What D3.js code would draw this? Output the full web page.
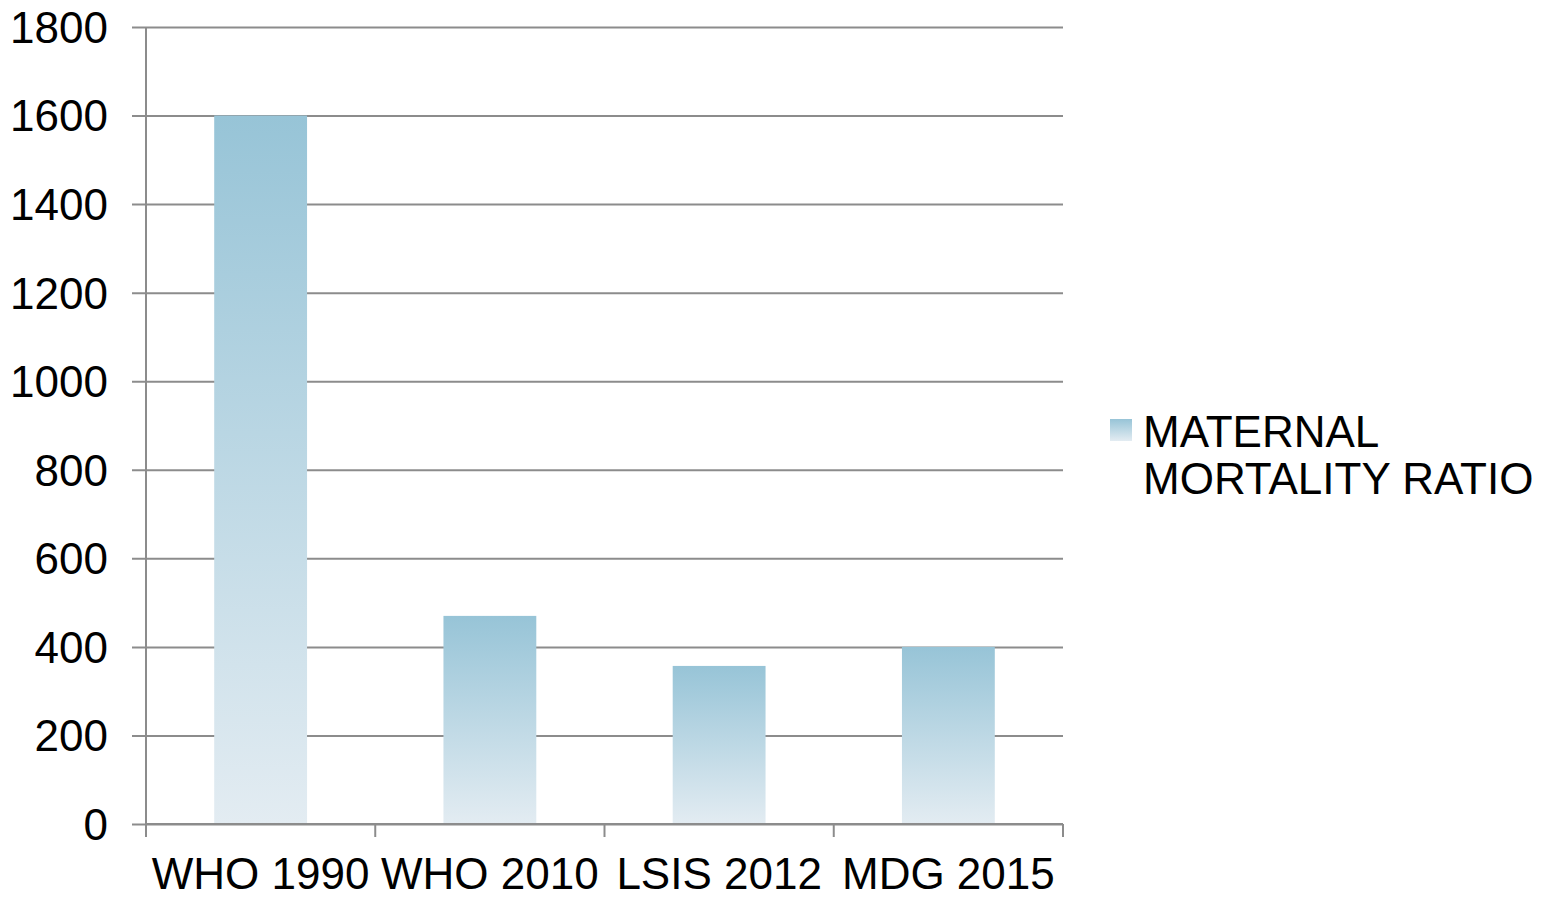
<!DOCTYPE html>
<html>
<head>
<meta charset="utf-8">
<script src="https://cdn.jsdelivr.net/npm/d3@7.9.0/dist/d3.min.js"></script>
<style>
  html, body { margin: 0; padding: 0; background: #fff; }
  svg { display: block; }
  text { font-family: "Liberation Sans", Arial, sans-serif; fill: #000; }
</style>
</head>
<body>
<div id="chart"></div>
<script>
const categories = ['WHO 1990', 'WHO 2010', 'LSIS 2012', 'MDG 2015'];
const values = [1600, 470, 357, 400];
const yTicks = [0, 200, 400, 600, 800, 1000, 1200, 1400, 1600, 1800];
const seriesName = ['MATERNAL', 'MORTALITY RATIO'];

const width = 1557;
const height = 897;
const plot = { left: 146, right: 1063, top: 27, bottom: 824 };
const gridColor = '#8c8c8c';

const svg = d3
  .select('#chart')
  .append('svg')
  .attr('width', width)
  .attr('height', height);

const defs = svg.append('defs');
const grad = defs
  .append('linearGradient')
  .attr('id', 'barGrad')
  .attr('x1', 0).attr('y1', 0)
  .attr('x2', 0).attr('y2', 1);
grad.append('stop').attr('offset', '0%').attr('stop-color', '#97c4d7');
grad.append('stop').attr('offset', '100%').attr('stop-color', '#e3ecf2');

const xScale = d3
  .scaleBand()
  .domain(categories)
  .range([plot.left, plot.right])
  .paddingInner(0.595)
  .paddingOuter(0.2975);

const yScale = d3.scaleLinear().domain([0, 1800]).range([plot.bottom, plot.top]);

// gridlines + y ticks
const yAxis = svg
  .append('g')
  .attr('transform', `translate(${plot.left}, 0)`)
  .call(
    d3.axisLeft(yScale)
      .tickValues(yTicks)
      .tickSizeInner(-(plot.right - plot.left))
      .tickSizeOuter(0)
      .tickFormat('')
  );
yAxis.select('.domain').remove();
yAxis.selectAll('line').attr('stroke', gridColor).attr('stroke-width', 2).attr('x1', -14);

// y labels
svg
  .append('g')
  .selectAll('text')
  .data(yTicks)
  .join('text')
  .attr('x', 108)
  .attr('y', (d) => yScale(d))
  .attr('dy', '0.36em')
  .attr('text-anchor', 'end')
  .style('font-size', '44px')
  .text((d) => d);

// bars
svg
  .append('g')
  .selectAll('rect')
  .data(values)
  .join('rect')
  .attr('x', (d, i) => xScale(categories[i]))
  .attr('y', (d) => yScale(d))
  .attr('width', xScale.bandwidth())
  .attr('height', (d) => yScale(0) - yScale(d))
  .attr('fill', 'url(#barGrad)');

// y axis line
svg
  .append('line')
  .attr('x1', plot.left).attr('x2', plot.left)
  .attr('y1', plot.top).attr('y2', plot.bottom)
  .attr('stroke', gridColor)
  .attr('stroke-width', 2);

// x axis
const xEdges = d3.range(categories.length + 1).map(
  (i) => plot.left + (i * (plot.right - plot.left)) / categories.length
);
svg
  .append('line')
  .attr('x1', plot.left).attr('x2', plot.right)
  .attr('y1', plot.bottom).attr('y2', plot.bottom)
  .attr('stroke', gridColor)
  .attr('stroke-width', 2);
svg
  .append('g')
  .selectAll('line')
  .data(xEdges)
  .join('line')
  .attr('x1', (d) => d).attr('x2', (d) => d)
  .attr('y1', plot.bottom).attr('y2', plot.bottom + 13)
  .attr('stroke', gridColor)
  .attr('stroke-width', 2);

svg
  .append('g')
  .selectAll('text')
  .data(categories)
  .join('text')
  .attr('x', (d) => xScale(d) + xScale.bandwidth() / 2)
  .attr('y', 889)
  .attr('text-anchor', 'middle')
  .style('font-size', '44px')
  .text((d) => d);

// legend
const legend = svg.append('g');
legend
  .append('rect')
  .attr('x', 1110).attr('y', 419)
  .attr('width', 22).attr('height', 22)
  .attr('fill', 'url(#barGrad)');
legend
  .selectAll('text')
  .data(seriesName)
  .join('text')
  .attr('x', 1143)
  .attr('y', (d, i) => 447 + i * 47)
  .style('font-size', '44px')
  .text((d) => d);
</script>
</body>
</html>
